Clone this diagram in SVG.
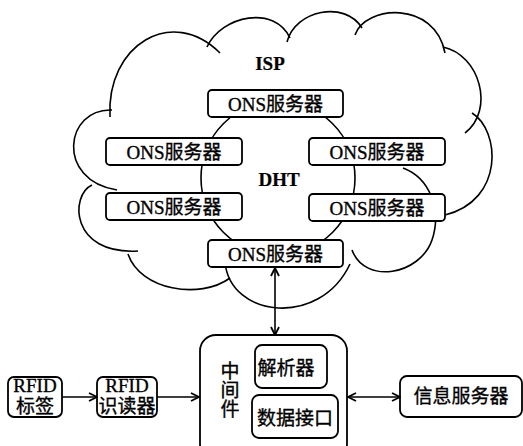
<svg xmlns="http://www.w3.org/2000/svg" width="523" height="446" viewBox="0 0 523 446">
<style>
.ln{fill:none;stroke:#000;stroke-width:1.6}
.bx{fill:#fff;stroke:#000;stroke-width:1.8}
.t{font-family:"Liberation Serif","Noto Sans CJK SC",serif;font-size:19px;fill:#000;stroke:#000;stroke-width:0.35;text-anchor:middle}
.b{font-weight:bold;stroke-width:0.2}
</style>
<defs>
<marker id="ah" viewBox="0 0 10 10" refX="9" refY="5" markerWidth="10" markerHeight="10" markerUnits="userSpaceOnUse" orient="auto-start-reverse">
<path d="M1,1 L9,5 L1,9" fill="none" stroke="#000" stroke-width="1.8"/>
</marker>
</defs>
<g id="cloud">
<path class="ln" d="M110,117 C106,45 172,5 220,53"/>
<path class="ln" d="M207,47 C222,15 275,5 290,38"/>
<path class="ln" d="M287,42 C295,10 345,0 362,28"/>
<path class="ln" d="M355,35 C365,5 435,0 445,53"/>
<path class="ln" d="M443,47 C480,55 495,110 465,133"/>
<path class="ln" d="M472,113 C500,130 505,200 445,215"/>
<path class="ln" d="M403,168 C430,178 442,210 432,240 C420,275 365,285 352,250"/>
<path class="ln" d="M225,262 C230,318 320,328 350,264"/>
<path class="ln" d="M128,254 C140,290 200,300 230,278"/>
<path class="ln" d="M92,185 C70,195 70,255 138,251"/>
<path class="ln" d="M112,110 C65,108 55,180 117,190"/>
</g>
<g id="dht">
<circle class="ln" cx="278" cy="178" r="77"/>
</g>
<text class="t b" x="270" y="70">ISP</text>
<text class="t b" x="279" y="186">DHT</text>
<g id="ons1"><rect class="bx" x="208" y="90" width="135" height="27" rx="4"/><text class="t" x="275.5" y="111">ONS服务器</text></g>
<g id="ons2"><rect class="bx" x="106" y="138" width="136" height="27" rx="4"/><text class="t" x="174" y="159">ONS服务器</text></g>
<g id="ons3"><rect class="bx" x="309" y="138" width="136" height="27" rx="4"/><text class="t" x="377" y="159">ONS服务器</text></g>
<g id="ons4"><rect class="bx" x="106" y="193" width="136" height="27" rx="4"/><text class="t" x="174" y="214">ONS服务器</text></g>
<g id="ons5"><rect class="bx" x="309" y="194" width="136" height="27" rx="4"/><text class="t" x="377" y="215">ONS服务器</text></g>
<g id="ons6"><rect class="bx" x="208" y="240" width="135" height="27" rx="4"/><text class="t" x="275.5" y="261">ONS服务器</text></g>
<g id="tag"><rect class="bx" x="8" y="377" width="54" height="40" rx="6"/><text class="t" x="35" y="392">RFID</text><text class="t" x="35" y="413">标签</text></g>
<g id="reader"><rect class="bx" x="97" y="377" width="60" height="40" rx="6"/><text class="t" x="127" y="392">RFID</text><text class="t" x="127" y="413">识读器</text></g>
<g id="middleware">
<rect class="bx" x="200" y="335" width="147" height="125" rx="16"/>
<text class="t" x="230" y="378">中</text>
<text class="t" x="230" y="397">间</text>
<text class="t" x="230" y="416">件</text>
<g id="parser"><rect class="bx" x="255" y="345" width="72" height="43" rx="7"/><text class="t" x="286" y="375">解析器</text></g>
<g id="dataif"><rect class="bx" x="252" y="395" width="86" height="43" rx="7"/><text class="t" x="295" y="425">数据接口</text></g>
</g>
<g id="info"><rect class="bx" x="400" y="376" width="122" height="41" rx="7"/><text class="t" x="461" y="403">信息服务器</text></g>
<g id="connectors">
<line class="ln" x1="62" y1="397" x2="97" y2="397" marker-end="url(#ah)"/>
<line class="ln" x1="157" y1="397" x2="199" y2="397" marker-end="url(#ah)"/>
<line class="ln" x1="348" y1="397" x2="400" y2="397" marker-start="url(#ah)" marker-end="url(#ah)"/>
<line class="ln" x1="275" y1="268" x2="275" y2="335" marker-start="url(#ah)" marker-end="url(#ah)"/>
</g>
</svg>
